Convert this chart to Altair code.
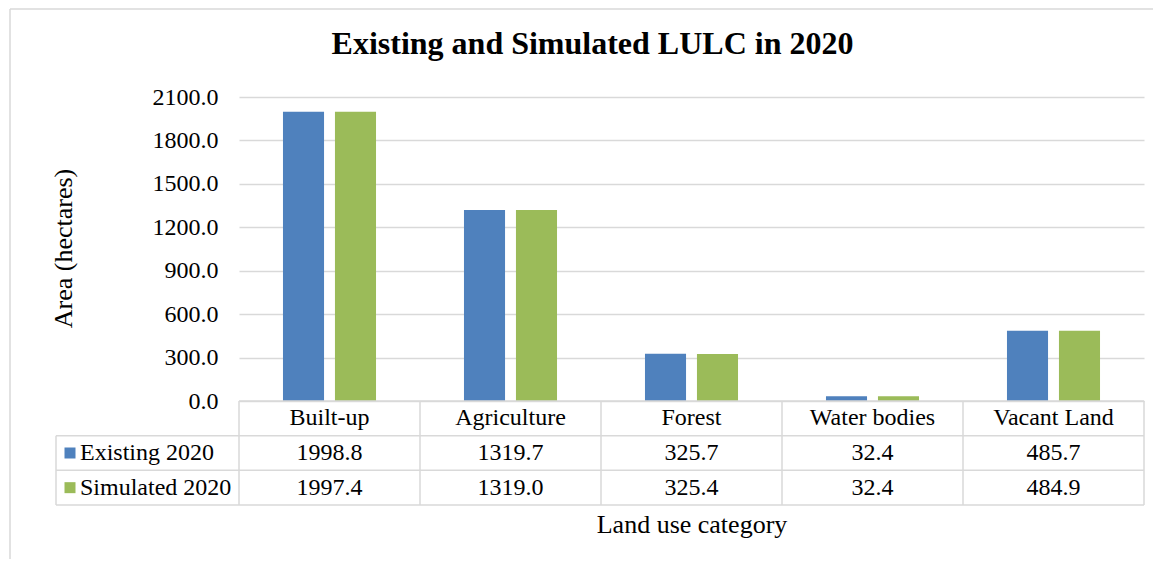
import altair as alt
import pandas as pd

categories = ["Built-up", "Agriculture", "Forest", "Water bodies", "Vacant Land"]
series_names = ["Existing 2020", "Simulated 2020"]
existing_2020 = [1998.8, 1319.7, 325.7, 32.4, 485.7]
simulated_2020 = [1997.4, 1319.0, 325.4, 32.4, 484.9]
y_ticks = [0, 300, 600, 900, 1200, 1500, 1800, 2100]
colors = ["#4F81BD", "#9BBB59"]
row_names = ["header"] + series_names

recs = []
for c, e, s in zip(categories, existing_2020, simulated_2020):
    recs.append({"category": c, "series": series_names[0], "row": series_names[0], "value": e})
    recs.append({"category": c, "series": series_names[1], "row": series_names[1], "value": s})
df = pd.DataFrame(recs)
cat_df = pd.DataFrame({"category": categories, "row": ["header"] * len(categories)})
ser_df = pd.DataFrame({"series": series_names, "row": series_names})
last_cat_df = pd.DataFrame({"category": [categories[-1]]})
last_row_df = pd.DataFrame({"row": [series_names[-1]]})
first_row_df = pd.DataFrame({"row": ["header"]})

W, H_BAR, H_TAB = 905, 304, 104
GRID = "#d9d9d9"
FS = 24
FS_TITLE = 26
FONT = "Liberation Serif"

x_scale = alt.Scale(domain=categories, paddingInner=0, paddingOuter=0)
row_scale = alt.Scale(domain=row_names, paddingInner=0, paddingOuter=0)
color_scale = alt.Scale(domain=series_names, range=colors)

bars = alt.Chart(df).mark_bar().encode(
    x=alt.X("category:N", scale=x_scale, axis=None, sort=categories),
    xOffset=alt.XOffset("series:N", sort=series_names,
                        scale=alt.Scale(domain=series_names, paddingInner=0.21, paddingOuter=0.846)),
    y=alt.Y("value:Q", scale=alt.Scale(domain=[0, 2100], nice=False),
            axis=alt.Axis(values=y_ticks, format=".1f", title="Area (hectares)", grid=True,
                          gridColor=GRID, gridWidth=1.5, domain=False, ticks=False, tickSize=0,
                          labelPadding=21, labelFontSize=FS, labelColor="black", labelFont=FONT,
                          titleFontSize=FS_TITLE, titleFontWeight="normal", titleColor="black",
                          titleFont=FONT, titleX=-176, titleY=151, titleAngle=270,
                          titleAlign="center", titleBaseline="middle")),
    color=alt.Color("series:N", scale=color_scale, legend=None),
).properties(
    width=W, height=H_BAR,
    title=alt.TitleParams("Existing and Simulated LULC in 2020", anchor="middle", frame="group",
                          dx=-99, offset=24, fontSize=32, fontWeight="bold", color="black", font=FONT),
)

x_axis = alt.Axis(labels=False, ticks=False, domain=False, grid=False, title="Land use category",
                  titleFontSize=FS_TITLE, titleFontWeight="normal", titleColor="black",
                  titleFont=FONT, titlePadding=6)


def ycat(bp=0.5):
    return alt.Y("row:N", scale=row_scale, axis=None, bandPosition=bp)


def xcat(bp=0.5):
    return alt.X("category:N", scale=x_scale, axis=x_axis, bandPosition=bp)


header = alt.Chart(cat_df).mark_text(fontSize=FS, color="black", font=FONT).encode(
    x=xcat(), y=ycat(), text="category:N",
)
values = alt.Chart(df).mark_text(fontSize=FS, color="black", font=FONT).encode(
    x=xcat(), y=ycat(), text=alt.Text("value:Q", format=".1f"),
)
swatches = alt.Chart(ser_df).mark_square(size=121, opacity=1).encode(
    x=alt.value(-169), y=ycat(),
    color=alt.Color("series:N", scale=color_scale, legend=None),
)
labels = alt.Chart(ser_df).mark_text(fontSize=FS, color="black", font=FONT, align="left").encode(
    x=alt.value(-159), y=ycat(), text="series:N",
)
rule = dict(color=GRID, strokeWidth=1.5)
hlines = alt.Chart(ser_df).mark_rule(**rule).encode(
    x=alt.value(-183), x2=alt.value(W), y=ycat(0),
)
hline_bottom = alt.Chart(last_row_df).mark_rule(**rule).encode(
    x=alt.value(-183), x2=alt.value(W), y=ycat(1),
)
hline_top = alt.Chart(first_row_df).mark_rule(**rule).encode(
    x=alt.value(0), x2=alt.value(W), y=ycat(0),
)
vlines = alt.Chart(cat_df).mark_rule(**rule).encode(
    x=xcat(0), y=alt.value(0), y2=alt.value(H_TAB),
)
vline_end = alt.Chart(last_cat_df).mark_rule(**rule).encode(
    x=xcat(1), y=alt.value(0), y2=alt.value(H_TAB),
)
vline_left = alt.Chart(pd.DataFrame({"row": [series_names[0]]})).mark_rule(**rule).encode(
    x=alt.value(-183), y=ycat(0), y2=alt.value(H_TAB),
)
frame_left = alt.Chart(first_row_df).mark_rule(**rule).encode(
    x=alt.value(-229), y=alt.value(-392), y2=alt.value(158),
)
frame_top = alt.Chart(first_row_df).mark_rule(**rule).encode(
    x=alt.value(-229), x2=alt.value(914), y=alt.value(-392),
)

table = alt.layer(
    header, hlines, hline_bottom, hline_top, vlines, vline_end, vline_left,
    frame_left, frame_top, values, swatches, labels,
).properties(width=W, height=H_TAB)

chart = alt.vconcat(bars, table, spacing=0, bounds="flush").properties(
    padding={"left": 1, "top": 0, "right": 0, "bottom": 0}
).configure(font=FONT).configure_view(stroke=None)

chart.save("out.html", embed_options={"renderer": "svg", "actions": False})
